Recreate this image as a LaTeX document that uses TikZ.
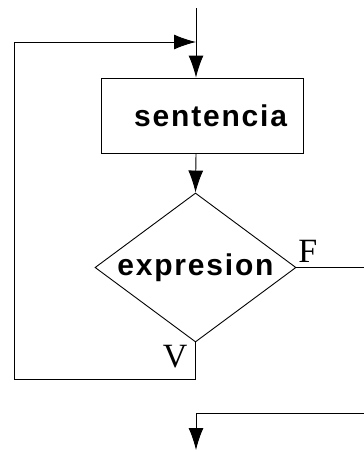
\documentclass[tikz,border=0pt]{standalone}
\usepackage{fontspec}
\setmainfont{Liberation Serif}
\newfontfamily\blockfont[LetterSpace=6]{Liberation Sans Bold}
\usetikzlibrary{shapes.geometric,arrows.meta}

\tikzset{
    flow/.style={-{Latex[length=22pt,width=15pt]}},
    block/.style={draw, font=\blockfont\fontsize{30pt}{32pt}\selectfont},
    branch/.style={anchor=base, inner sep=0pt, font=\fontsize{34pt}{36pt}\selectfont}
}

\begin{document}
\begin{tikzpicture}[line width=0.9pt]

    % Page size
    \useasboundingbox (0pt,0pt) rectangle (364pt,-453pt);

    % Sentence box
    \node[block, text width=170pt, align=right, inner xsep=16pt, inner ysep=0pt,
          minimum height=75pt] (sent) at (202pt,-115.5pt) {sentencia};

    % Condition diamond
    \node[block, diamond, aspect=1.35, minimum width=201pt, minimum height=149pt,
          inner sep=0pt] (expr) at (195.5pt,-267.5pt) {expresion};

    % True / false labels
    \node[branch, anchor=base west] (flab) at (298pt,-262pt) {F};
    \node[branch, anchor=base east] (vlab) at (188pt,-367pt) {V};

    % Points of the flow lines
    \coordinate (start) at (196pt,-8pt);
    \coordinate (join) at (196pt,-42pt);
    \coordinate (lowleft) at (14pt,-379pt);
    \coordinate (fend) at (364pt,-267.5pt);
    \coordinate (exitin) at (364pt,-413pt);
    \coordinate (exitout) at (196pt,-450pt);

    % Entry into the box
    \draw[flow] (start) -- (start |- sent.north);

    % Box to condition
    \draw[flow] (start |- sent.south) -- (expr.north);

    % True branch loops back
    \draw[flow] (expr.south) |- (lowleft) |- (join);

    % False branch leaves
    \draw (expr.east) -- (fend);

    % Exit
    \draw[flow] (exitin) -| (exitout);

\end{tikzpicture}
\end{document}
